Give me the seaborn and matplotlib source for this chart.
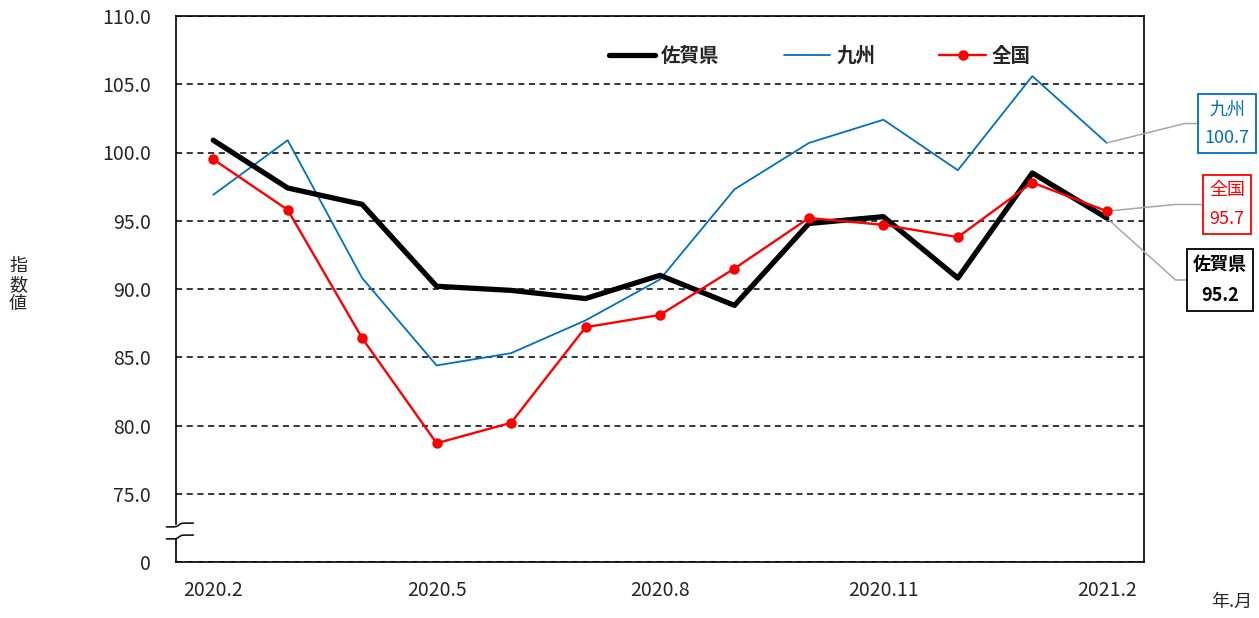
import numpy as np
import pandas as pd
import matplotlib
matplotlib.use('Agg')
import matplotlib.pyplot as plt
import seaborn as sns
from matplotlib.patches import Rectangle

# データ
months = ['2020.2', '2020.3', '2020.4', '2020.5', '2020.6', '2020.7', '2020.8',
          '2020.9', '2020.10', '2020.11', '2020.12', '2021.1', '2021.2']
saga = [100.9, 97.4, 96.2, 90.2, 89.9, 89.3, 91.0, 88.8, 94.8, 95.3, 90.8, 98.5, 95.2]
kyushu = [96.9, 100.9, 90.8, 84.4, 85.3, 87.7, 90.7, 97.3, 100.7, 102.4, 98.7, 105.6, 100.7]
zenkoku = [99.5, 95.8, 86.4, 78.7, 80.2, 87.2, 88.1, 91.5, 95.2, 94.7, 93.8, 97.8, 95.7]
shown_ticks = ['2020.2', '2020.5', '2020.8', '2020.11', '2021.2']
y_ticks = [70, 75, 80, 85, 90, 95, 100, 105, 110]

sns.set_style('white')
plt.rcParams['font.family'] = ['Noto Sans CJK JP', 'DejaVu Sans']

df = pd.DataFrame({'pos': np.arange(len(months)), 'month': months,
                   '佐賀県': saga, '九州': kyushu, '全国': zenkoku})

fig = plt.figure(figsize=(12.59, 6.18), dpi=100)
ax = fig.add_axes([176 / 1259, 1 - 562 / 618, 968 / 1259, 546 / 618])

sns.lineplot(data=df, x='pos', y='九州', ax=ax, color='#0070C0', lw=1.3,
             label='九州', zorder=3)
sns.lineplot(data=df, x='pos', y='佐賀県', ax=ax, color='black', lw=3.8,
             label='佐賀県', zorder=4)
sns.lineplot(data=df, x='pos', y='全国', ax=ax, color='#FF0000', lw=1.7,
             marker='o', markersize=7.5, markeredgewidth=0, label='全国', zorder=5)

ax.set_xlim(-0.5, len(months) - 0.5)
ax.set_ylim(70, 110)
ax.set_yticks(y_ticks)
ax.set_yticklabels(['0' if v == 70 else f'{v:.1f}' for v in y_ticks])
ax.set_xticks([months.index(m) for m in shown_ticks])
ax.set_xticklabels(shown_ticks)
ax.tick_params(axis='y', length=0, pad=18, labelsize=14)
ax.tick_params(axis='x', length=0, pad=13, labelsize=14)
ax.set_xlabel('')
ax.set_ylabel('')
ax.yaxis.grid(True, color='black', linestyle=(0, (4, 3)), lw=1.1)
ax.xaxis.grid(False)
for s in ax.spines.values():
    s.set_color('black')
    s.set_linewidth(1.2)

# 凡例
handles, labels = ax.get_legend_handles_labels()
order = [labels.index(l) for l in ['佐賀県', '九州', '全国']]
ax.legend([handles[i] for i in order], [labels[i] for i in order], ncol=3,
          loc='center', bbox_to_anchor=(0.665, 0.927), frameon=False,
          prop={'weight': 'bold', 'size': 14}, handlelength=2.4,
          columnspacing=3.3, handletextpad=0.3)

# 省略記号 (縦軸)
y1 = (562 - 525) / 546
y2 = (562 - 537) / 546
ax.add_patch(Rectangle((-0.004, y2), 0.008, y1 - y2, transform=ax.transAxes,
                       color='white', clip_on=False, zorder=10))
xs = np.linspace(-0.01, 0.018, 30)
for y0 in (y1, y2):
    ys = y0 + 0.0035 * (np.tanh((xs - 0.003) * 400) + 1) - 0.0035
    ax.plot(xs, ys, color='black', lw=1.1, transform=ax.transAxes,
            clip_on=False, zorder=11)

# 右側のラベル
last = len(months) - 1
boxes = [
    ('九州\n' + f'{kyushu[-1]:.1f}', kyushu[-1], '#0070C0', 'normal', (1.0857, 0.803), 14),
    ('全国\n' + f'{zenkoku[-1]:.1f}', zenkoku[-1], '#FF0000', 'normal', (1.0857, 0.6548), 5.6),
    ('佐賀県\n' + f'{saga[-1]:.1f}', saga[-1], 'black', 'bold', (1.0785, 0.5165), -42),
]
for txt, val, col, wt, pos, ang in boxes:
    ax.annotate(txt, xy=(last, val), xycoords='data', xytext=pos,
                textcoords='axes fraction', ha='center', va='center',
                color=col, fontsize=13, fontweight=wt, linespacing=1.75,
                annotation_clip=False,
                bbox=dict(boxstyle='square,pad=0.35', fc='white', ec=col, lw=1.3),
                arrowprops=dict(arrowstyle='-', color='#a6a6a6', lw=1.1,
                                shrinkA=0, shrinkB=0,
                                connectionstyle=f'angle,angleA=0,angleB={ang},rad=0'))

fig.text(18 / 1259, 1 - 285 / 618, '指\n数\n値', ha='center', va='center',
         fontsize=13, linespacing=1.1)
fig.text(1232 / 1259, 1 - 602 / 618, '年.月', ha='center', va='center', fontsize=13)

fig.savefig('out.png', dpi=100)
